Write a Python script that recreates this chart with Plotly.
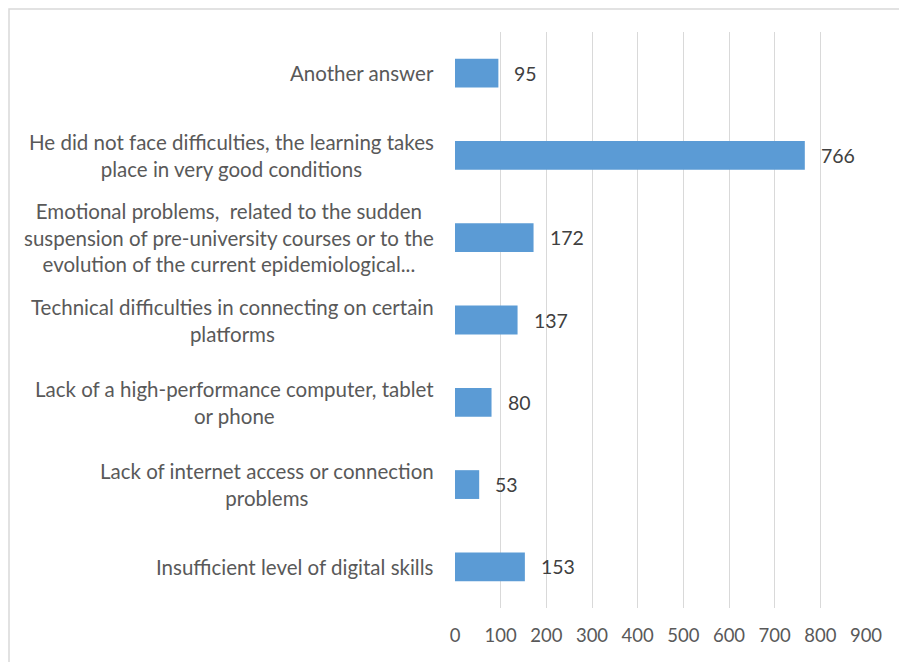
import plotly.graph_objects as go

categories = [
    "Another answer",
    "He did not face difficulties, the learning takes<br>place in very good conditions",
    "Emotional problems,  related to the sudden<br>suspension of pre-university courses or to the<br>evolution of the current epidemiological...",
    "Technical difficulties in connecting on certain<br>platforms",
    "Lack of a high-performance computer, tablet<br>or phone",
    "Lack of internet access or connection<br>problems",
    "Insufficient level of digital skills",
]
values = [95, 766, 172, 137, 80, 53, 153]
x_ticks = [0, 100, 200, 300, 400, 500, 600, 700, 800, 900]

# page has an 8px body margin; compensate
W, H = 899, 654
ML, MR, MT, MB = 447, 41, 24, 54
pw, ph = W - ML - MR, H - MT - MB

FONT = "Lato"
fig = go.Figure(go.Bar(
    x=values, y=categories, orientation="h",
    marker=dict(color="#5B9BD5", line=dict(width=0)),
    width=0.35,
))

for c, v in zip(categories, values):
    fig.add_annotation(x=v, y=c, text=str(v), showarrow=False, xanchor="left",
                       xshift=14, font=dict(family=FONT, size=19.5, color="#404040"))
    fig.add_annotation(x=0, xref="paper", y=c, text=c, showarrow=False,
                       xanchor="right", align="center", xshift=-19,
                       font=dict(family=FONT, size=20.5, color="#595959"))

# chart border
fig.add_shape(type="rect", xref="paper", yref="paper",
              x0=(1 - ML) / pw, x1=(W + 20 - ML) / pw,
              y0=-(H + 20 - MT - ph) / ph, y1=(H - MB - 1) / ph,
              line=dict(color="#D9D9D9", width=1.5), fillcolor="rgba(0,0,0,0)")

fig.update_layout(
    width=W, height=H,
    margin=dict(l=ML, r=MR, t=MT, b=MB),
    plot_bgcolor="white", paper_bgcolor="white",
    showlegend=False,
    xaxis=dict(range=[0, 900], tickvals=x_ticks, showgrid=True, gridcolor="#D9D9D9",
               gridwidth=1, zeroline=False, showline=False,
               tickfont=dict(family=FONT, size=18.5, color="#595959"),
               ticklabelstandoff=14),
    yaxis=dict(autorange="reversed", showticklabels=False, showgrid=False,
               zeroline=False, showline=False),
)
fig.write_html("out.html")
